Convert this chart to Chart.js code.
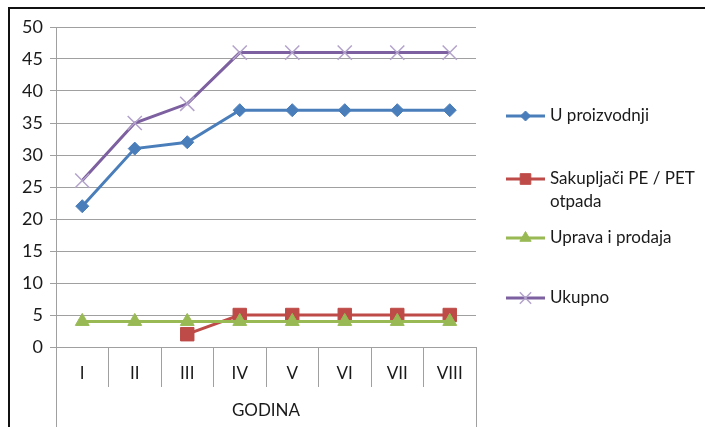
<!DOCTYPE html>
<html>
<head>
<meta charset="utf-8">
<script src="https://cdn.jsdelivr.net/npm/chart.js@4/dist/chart.umd.min.js"></script>
<style>
  html, body { margin: 0; padding: 0; background: #fff; }
  #wrap { position: relative; width: 705px; height: 427px; }
  #frame { position: absolute; left: 8px; top: 7px; right: 0; bottom: 0;
           border-left: 2px solid #111; border-top: 2px solid #111; pointer-events: none; }
</style>
</head>
<body>
<div id="wrap">
  <canvas id="chart" width="705" height="427"></canvas>
  <div id="frame"></div>
</div>
<script>
const godine = ['I', 'II', 'III', 'IV', 'V', 'VI', 'VII', 'VIII']
const uProizvodnji = [22, 31, 32, 37, 37, 37, 37, 37]
const sakupljaci = [null, null, 2, 5, 5, 5, 5, 5]
const upravaProdaja = [4, 4, 4, 4, 4, 4, 4, 4]
const ukupno = [26, 35, 38, 46, 46, 46, 46, 46]
const seriesNames = ['U proizvodnji', 'Sakupljači PE / PET otpada', 'Uprava i prodaja', 'Ukupno']
const yTicks = [0, 5, 10, 15, 20, 25, 30, 35, 40, 45, 50]
const axisTitle = 'GODINA'

const FONT = 'Lato'
const gridCol = '#a0a0a0'

// legend drawn by hand: line through the marker, wrapped text
const sideLegend = {
  id: 'sideLegend',
  afterDraw(chart, args, opts) {
    const ctx = chart.ctx
    ctx.save()
    ctx.font = '17px ' + FONT
    ctx.textBaseline = 'middle'
    chart.data.datasets.forEach((ds, i) => {
      const y = opts.rows[i]
      ctx.strokeStyle = ds.borderColor
      ctx.lineWidth = 3
      ctx.beginPath()
      ctx.moveTo(opts.x1, y)
      ctx.lineTo(opts.x2, y)
      ctx.stroke()
      ctx.fillStyle = ds.pointBackgroundColor
      ctx.strokeStyle = ds.pointBorderColor
      ctx.lineWidth = ds.pointBorderWidth
      Chart.helpers.drawPoint(ctx, { pointStyle: ds.pointStyle, radius: opts.radius[i], rotation: 0, borderWidth: ds.pointBorderWidth }, (opts.x1 + opts.x2) / 2, y)
      // word wrap
      const words = ds.label.split(' ')
      const lines = []
      let cur = ''
      words.forEach(w => {
        const t = cur ? cur + ' ' + w : w
        if (ctx.measureText(t).width > opts.maxWidth && cur) { lines.push(cur); cur = w } else cur = t
      })
      lines.push(cur)
      ctx.fillStyle = '#1a1a1a'
      lines.forEach((l, k) => ctx.fillText(l, opts.textX, y + k * 23))
    })
    ctx.restore()
  }
}

// outer category lines run down past the group label row
const outerLines = {
  id: 'outerLines',
  afterDraw(chart) {
    const ctx = chart.ctx, a = chart.chartArea
    ctx.save()
    ctx.strokeStyle = gridCol
    ctx.lineWidth = 1
    ctx.beginPath()
    ctx.moveTo(a.left + 0.5, a.bottom)
    ctx.lineTo(a.left + 0.5, chart.height)
    ctx.moveTo(a.right + 0.5, a.bottom)
    ctx.lineTo(a.right + 0.5, chart.height)
    ctx.stroke()
    ctx.restore()
  }
}

new Chart(document.getElementById('chart').getContext('2d'), {
  type: 'line',
  data: {
    labels: godine,
    datasets: [{
      label: seriesNames[0],
      data: uProizvodnji,
      borderColor: '#4a7ebb',
      pointBackgroundColor: '#4a7ebb',
      pointBorderColor: '#4a7ebb',
      pointBorderWidth: 1,
      pointStyle: 'rectRot',
      pointRadius: 6.5,
      borderWidth: 3,
      order: 3
    }, {
      label: seriesNames[1],
      data: sakupljaci,
      borderColor: '#be4b48',
      pointBackgroundColor: '#be4b48',
      pointBorderColor: '#be4b48',
      pointBorderWidth: 1,
      pointStyle: 'rect',
      pointRadius: 9.5,
      borderWidth: 3,
      order: 2
    }, {
      label: seriesNames[2],
      data: upravaProdaja,
      borderColor: '#98b954',
      pointBackgroundColor: '#98b954',
      pointBorderColor: '#98b954',
      pointBorderWidth: 1,
      pointStyle: 'triangle',
      pointRadius: 8,
      borderWidth: 3,
      order: 1
    }, {
      label: seriesNames[3],
      data: ukupno,
      borderColor: '#7d60a0',
      pointBackgroundColor: '#b3a3cb',
      pointBorderColor: '#b3a3cb',
      pointBorderWidth: 1.5,
      pointStyle: 'crossRot',
      pointRadius: 10,
      borderWidth: 3,
      order: 0
    }]
  },
  options: {
    responsive: false,
    animation: false,
    events: [],
    layout: { padding: { left: 0, top: 27, right: 229, bottom: 0 } },
    plugins: {
      legend: { display: false },
      tooltip: { enabled: false },
      sideLegend: { x1: 506, x2: 545, textX: 550, maxWidth: 150, rows: [116, 179, 238, 298], radius: [5, 7.5, 6.5, 8] }
    },
    scales: {
      x: {
        offset: true,
        afterFit: s => { s.height = 80 },
        grid: { offset: true, drawOnChartArea: false, tickLength: 40, color: gridCol },
        border: { color: gridCol },
        ticks: { padding: -24, color: '#1a1a1a', font: { family: FONT, size: 17 } },
        title: { display: true, text: axisTitle, color: '#1a1a1a', font: { family: FONT, size: 17 }, padding: { top: 0, bottom: 6 } }
      },
      y: {
        min: 0,
        max: 50,
        afterFit: s => { s.width = 56 },
        afterBuildTicks: s => { s.ticks = yTicks.map(v => ({ value: v })) },
        grid: { color: gridCol, tickLength: 6 },
        border: { color: gridCol },
        ticks: { padding: 7, color: '#1a1a1a', font: { family: FONT, size: 18 } }
      }
    }
  },
  plugins: [sideLegend, outerLines]
})
</script>
</body>
</html>
